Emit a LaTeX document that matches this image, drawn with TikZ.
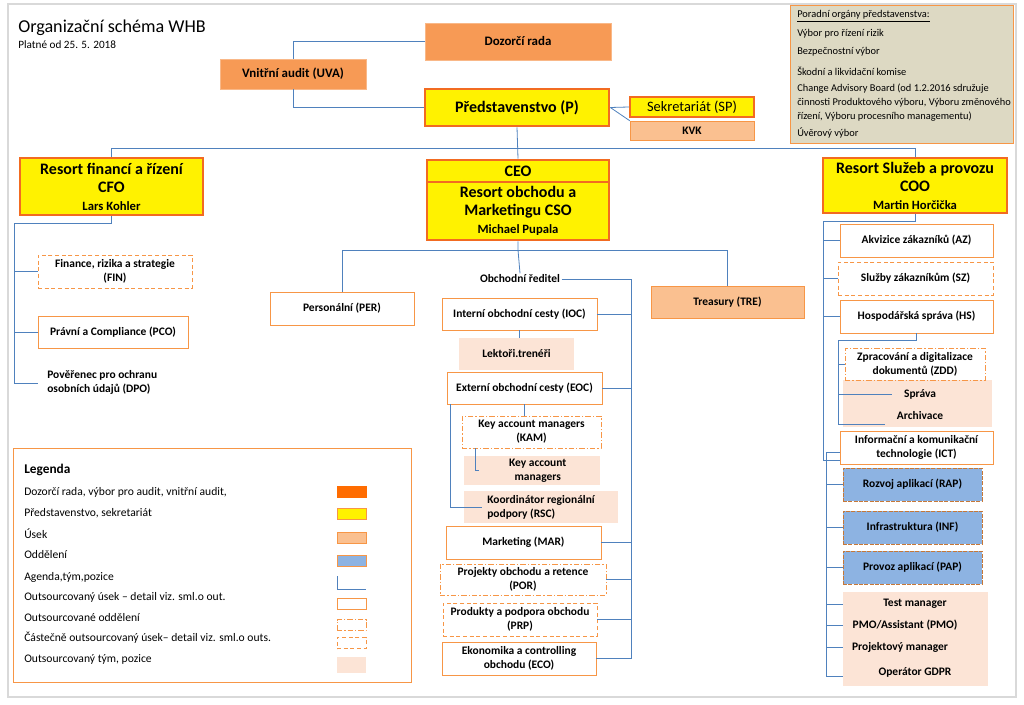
\documentclass[tikz,border=0pt]{standalone}
\usepackage{fontspec}
\setmainfont{Carlito}
\usetikzlibrary{positioning,calc}
\definecolor{lnblue}{HTML}{4F81BD}
\definecolor{obord}{HTML}{F79646}
\definecolor{thickor}{HTML}{F26B21}
\definecolor{drfill}{HTML}{F79A55}
\definecolor{lorange}{HTML}{FAC090}
\definecolor{pale}{HTML}{FCE4D6}
\definecolor{depblue}{HTML}{8DB3E2}
\definecolor{advfill}{HTML}{DDD9C3}
\tikzset{box/.style={draw=obord,fill=white,align=center,font=\bfseries\fontsize{8.6}{10.5}\selectfont,inner sep=1pt},
         w/.style={minimum width=#1*0.75pt},
         h/.style={minimum height=#1*0.75pt},
         head/.style={box,draw=thickor,line width=2pt,fill=yellow,font=\bfseries\fontsize{12}{13.5}\selectfont},
         ssec/.style={box,fill=lorange},
         outs/.style={box,dash pattern=on 3pt off 2pt},
         odd/.style={box,dash pattern=on 4pt off 1.5pt on 1pt off 1.5pt},
         team/.style={box,draw=none,fill=pale},
         dept/.style={box,draw=obord!80!black,fill=depblue,dash pattern=on 3pt off 1pt},
         txt/.style={font=\fontsize{7.8}{10.5}\selectfont,anchor=west,inner sep=0pt},
         ltxt/.style={font=\fontsize{8.7}{10}\selectfont,anchor=west,inner sep=0pt},
         line/.style={draw=lnblue,line width=0.6pt}
}
\begin{document}
\begin{tikzpicture}[x=0.75pt,y=-0.75pt]
\useasboundingbox (0,0) rectangle (1024,705);
\draw[black!15,line width=1pt] (8,4) rectangle (1016,697);
\node[anchor=west,inner sep=0pt,font=\fontsize{13.6}{15}\selectfont] (title) at (18,28) {Organizační schéma WHB};
\node[anchor=west,inner sep=0pt,font=\fontsize{8.4}{9}\selectfont] (valid) at (18,45) {Platné od 25. 5. 2018};

% top management
\node[box,fill=drfill,draw=drfill!70!white,w=186,h=37,font=\bfseries\fontsize{9.7}{11}\selectfont] (dr) at (518,41.5) {Dozorčí rada};
\node[box,fill=drfill,draw=drfill!70!white,w=146,h=30,font=\bfseries\fontsize{9.7}{11}\selectfont] (uva) at (293,74) {Vnitřní audit (UVA)};
\node[head,w=184,h=37] (p) at (517,107.5) {Představenstvo (P)};
\node[head,w=124,h=20,line width=1.6pt,font=\fontsize{10.8}{12}\selectfont] (sp) at (692,107) {Sekretariát (SP)};
\node[ssec,w=124,h=19] (kvk) at (692,130.5) {KVK};
\draw[line] (dr.west) -| (uva.north);
\draw[line] (uva.south) |- (p.west);
\draw[line] (p.east) -- (sp.west);
\draw[line] (p.east) -- (kvk.north west);

% advisory bodies
\node[draw=obord,fill=advfill,w=223,h=138,anchor=north west,inner sep=0pt] (adv) at (790,5) {};
\node[txt] (a1) at (797,16) {\underline{Poradní orgány představenstva:}};
\node[txt] (a2) at (797,34) {Výbor pro řízení rizik};
\node[txt] (a3) at (797,52) {Bezpečnostní výbor};
\node[txt] (a4) at (797,71) {Škodní a likvidační komise};
\node[txt,anchor=north west,align=left] (a5) at (797,84) {Change Advisory Board  (od 1.2.2016 sdružuje\\činnosti Produktového výboru, Výboru změnového\\řízení, Výboru procesního managementu)};
\node[txt] (a6) at (797,133) {Úvěrový výbor};

% resorts
\node[head,w=183,h=57] (cfo) at (111.5,186.5) {Resort financí a řízení\\CFO\\{\fontsize{9.5}{10}\selectfont Lars Kohler}};
\node[head,w=182,h=22] (ceo) at (518,171) {CEO};
\node[head,w=182,h=58] (cso) at (518,211) {Resort obchodu a\\Marketingu CSO\\{\fontsize{9.5}{10}\selectfont Michael Pupala}};
\node[head,w=184,h=55] (coo) at (915,185.5) {Resort Služeb a provozu\\COO\\{\fontsize{9.5}{10}\selectfont Martin Horčička}};
\draw[line] (cfo.north) -- ++(0,-8) -| (coo.north);
\draw[line] (p.south) -- (ceo.north);

% CFO
\coordinate (cfoL) at (14,383);
\node[outs,w=154,h=33] (fin) at (115,271.5) {Finance, rizika a strategie\\(FIN)};
\node[box,w=150,h=32] (pco) at (113,332) {Právní a Compliance (PCO)};
\node[box,draw=none,align=left,anchor=west,inner sep=0pt] (dpo) at (47,382) {Pověřenec pro ochranu\\osobních údajů (DPO)};
\draw[line] (cfo.south) -- ++(0,7) -| (cfoL);
\draw[line] (cfoL) |- (fin.west);
\draw[line] (cfoL) |- (pco.west);
\draw[line] (cfoL) -- ++(24,0);

% CSO
\coordinate (cb) at (518,250);
\node[box,w=144,h=33] (per) at (342,308.5) {Personální (PER)};
\node[ssec,w=153,h=32] (tre) at (727.5,302) {Treasury (TRE)};
\node[box,draw=none,fill=none] (od) at (520,279) {Obchodní ředitel};
\draw[line] (cso.south) -- (cb) -- (od.north);
\draw[line] (per.north) -- (per.north |- cb) -- (tre.north |- cb) -- (tre.north);
\coordinate (osp) at (631,656);
\node[box,w=155,h=32] (ioc) at (519.5,314) {Interní obchodní cesty (IOC)};
\node[team,w=115,h=32] (lek) at (516.5,354) {Lektoři.trenéři};
\node[box,w=155,h=32] (eoc) at (524.5,388) {Externí obchodní cesty (EOC)};
\node[odd,w=139,h=32] (kam) at (531.5,432) {Key account managers\\(KAM)};
\node[team,w=136,h=29] (kam2) at (532,470.5) {\hspace*{1em}Key account\\\hspace*{1em}managers};
\node[team,w=154,h=32,align=left] (rsc) at (541,507) {Koordinátor regionální\\podpory (RSC)};
\node[box,w=155,h=33] (mar) at (523.5,542.5) {Marketing (MAR)};
\node[odd,w=166,h=31] (por) at (523,579.5) {Projekty obchodu a retence\\(POR)};
\node[outs,w=154,h=33] (prp) at (520,619.5) {Produkty a podpora obchodu\\(PRP)};
\node[box,w=154,h=33] (eco) at (519,658.5) {Ekonomika a controlling\\obchodu (ECO)};
\draw[line] (od.east) -| (osp);
\foreach \n in {ioc,eoc,mar,por,prp,eco}
  \draw[line] (osp) |- (\n.east);
\draw[line] (ioc.south) -- (ioc.south |- lek.north);
\draw[line] (eoc.south) -- (eoc.south |- kam.north);
\draw[line] ([xshift=10]kam.south west) |- ([xshift=-40]kam2.center);
\draw[line] ([xshift=3]eoc.south west) |- ([xshift=14]rsc.west);

% COO
\coordinate (cooL) at (823,460);
\node[box,w=153,h=33] (az) at (916.5,240.5) {Akvizice zákazníků (AZ)};
\node[outs,w=155,h=33] (sz) at (915.5,278.5) {Služby zákazníkům (SZ)};
\node[box,w=153,h=33] (hs) at (916.5,316.5) {Hospodářská správa (HS)};
\node[team,w=149,h=47,align=center] (spr) at (917.5,403.5) {};
\node[box,draw=none,fill=none] (sprava) at (920,394) {Správa};
\node[box,draw=none,fill=none] (arch) at (920,416) {Archivace};
\node[odd,w=140,h=32] (zdd) at (915,364) {Zpracování a digitalizace\\dokumentů (ZDD)};
\node[box,w=153,h=33] (ict) at (916.5,447.5) {Informační a komunikační\\technologie (ICT)};
\draw[line] (coo.south) -- ++(0,7) -| (cooL);
\foreach \n in {az,sz,hs}
  \draw[line] (cooL) |- (\n.west);
\draw[line] (cooL) -- (ict.west |- cooL);
\coordinate (hsL) at (838,424);
\draw[line] (hs.south) -- ++(0,7) -| (hsL);
\draw[line] (hsL) |- (zdd.west);
\draw[line] (hsL) |- ([xshift=-8]sprava.west);
\draw[line] (hsL) -- ([xshift=-8]arch.west |- hsL);
\node[dept,w=139,h=33] (rap) at (912.5,484.5) {Rozvoj aplikací (RAP)};
\node[dept,w=139,h=33] (inf) at (912.5,527.5) {Infrastruktura (INF)};
\node[dept,w=139,h=33] (pap) at (912.5,567.5) {Provoz aplikací (PAP)};
\node[team,w=145,h=94] (ppl) at (915.5,639) {};
\node[box,draw=none,fill=none] (tm) at (915,604) {Test manager};
\node[box,draw=none,fill=none] (pmo) at (905,625) {PMO/Assistant (PMO)};
\node[box,draw=none,fill=none] (pm) at (900,647) {Projektový manager};
\node[box,draw=none,fill=none] (gdpr) at (915,672) {Operátor GDPR};
\coordinate (ictL) at (826,676);
\draw[line] (ict.west |- 0,452) -- (826,452) -- (ictL);
\foreach \n in {rap,inf,pap}
  \draw[line] (ictL) |- (\n.west);
\foreach \n in {tm,pmo,pm}
  \draw[line] (ictL) |- (ppl.west |- \n);
\draw[line] (ictL) -- (ppl.west |- ictL);

% legend
\node[draw=obord,line width=0.8pt,w=398,h=234,anchor=north west,inner sep=0pt] (leg) at (13,448) {};
\node[ltxt,font=\bfseries\fontsize{10}{11}\selectfont] (lt) at (24,470) {Legenda};
\node[ltxt] (l1) at (24,492) {Dozorčí rada, výbor pro audit, vnitřní audit,};
\node[ltxt] (l2) at (24,513) {Představenstvo, sekretariát};
\node[ltxt] (l3) at (24,534) {Úsek};
\node[ltxt] (l4) at (24,555) {Oddělení};
\node[ltxt] (l5) at (24,577) {Agenda,tým,pozice};
\node[ltxt] (l6) at (24,597) {Outsourcovaný úsek – detail viz. sml.o out.};
\node[ltxt] (l7) at (24,618) {Outsourcované oddělení};
\node[ltxt] (l8) at (24,638) {Částečně outsourcovaný úsek– detail viz. sml.o outs.};
\node[ltxt] (l9) at (24,659) {Outsourcovaný tým, pozice};
\node[box,fill=orange!85!red,draw=orange!85!red,w=29,h=11] (s1) at (351.5,492) {};
\node[box,fill=yellow,w=29,h=11] (s2) at (351.5,514) {};
\node[box,fill=lorange,w=29,h=11] (s3) at (351.5,538) {};
\node[box,fill=depblue,w=29,h=11] (s4) at (351.5,561) {};
\coordinate (s5) at (337,576);
\draw[line] (s5) -- ++(0,13) -- ++(29,0);
\node[box,w=29,h=11] (s6) at (351.5,604) {};
\node[odd,w=29,h=11] (s7) at (351.5,625) {};
\node[outs,w=29,h=11] (s8) at (351.5,643) {};
\node[team,w=29,h=16] (s9) at (351.5,665) {};
\end{tikzpicture}
\end{document}
